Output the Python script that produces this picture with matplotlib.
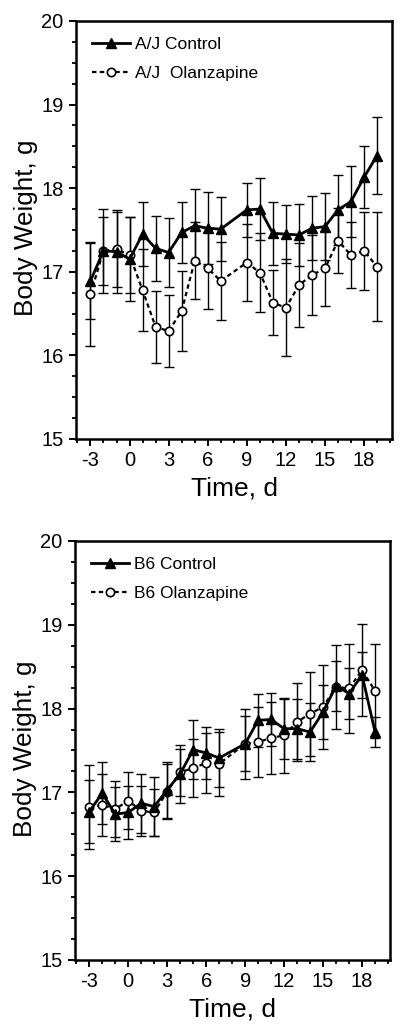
import matplotlib.pyplot as plt
from matplotlib.ticker import MultipleLocator

plt.rcParams['font.family'] = ['Liberation Sans', 'DejaVu Sans']
plt.rcParams['axes.unicode_minus'] = False

days = [-3, -2, -1, 0, 1, 2, 3, 4, 5, 6, 7, 9, 10, 11, 12, 13, 14, 15, 16, 17, 18, 19]

aj_ctrl = [16.89, 17.25, 17.24, 17.15, 17.45, 17.28, 17.23, 17.47, 17.55, 17.52, 17.51,
           17.74, 17.75, 17.46, 17.45, 17.44, 17.52, 17.54, 17.74, 17.84, 18.13, 18.39]
aj_ctrl_err = [0.45, 0.5, 0.5, 0.5, 0.38, 0.39, 0.41, 0.36, 0.44, 0.43, 0.38,
               0.32, 0.37, 0.38, 0.35, 0.37, 0.38, 0.4, 0.42, 0.42, 0.37, 0.46]
aj_olz = [16.73, 17.25, 17.27, 17.20, 16.78, 16.34, 16.29, 16.53, 17.13, 17.04, 16.89,
          17.11, 16.99, 16.63, 16.57, 16.84, 16.96, 17.04, 17.37, 17.20, 17.25, 17.06]
aj_olz_err = [0.62, 0.41, 0.45, 0.45, 0.49, 0.43, 0.43, 0.48, 0.46, 0.48, 0.47,
              0.46, 0.47, 0.39, 0.58, 0.5, 0.48, 0.45, 0.39, 0.39, 0.47, 0.65]

b6_ctrl = [16.77, 16.99, 16.74, 16.76, 16.87, 16.83, 17.03, 17.22, 17.51, 17.47, 17.41,
           17.58, 17.86, 17.87, 17.76, 17.76, 17.72, 17.96, 18.27, 18.18, 18.40, 17.72]
b6_ctrl_err = [0.38, 0.37, 0.32, 0.32, 0.35, 0.35, 0.33, 0.35, 0.35, 0.31, 0.35,
               0.42, 0.32, 0.32, 0.36, 0.36, 0.35, 0.32, 0.3, 0.3, 0.27, 0.18]
b6_olz = [16.83, 16.85, 16.80, 16.90, 16.78, 16.76, 17.01, 17.24, 17.29, 17.35, 17.34,
          17.58, 17.60, 17.65, 17.68, 17.84, 17.94, 18.02, 18.26, 18.24, 18.46, 18.21]
b6_olz_err = [0.5, 0.37, 0.33, 0.34, 0.3, 0.28, 0.33, 0.28, 0.35, 0.36, 0.38,
              0.33, 0.42, 0.43, 0.45, 0.47, 0.5, 0.5, 0.5, 0.53, 0.55, 0.56]

panels = [
    ([0.188, 0.5763, 0.780, 0.4035], 'A/J Control', 'A/J  Olanzapine', aj_ctrl, aj_ctrl_err, aj_olz, aj_olz_err),
    ([0.185, 0.0734, 0.778, 0.4044], 'B6 Control', 'B6 Olanzapine', b6_ctrl, b6_ctrl_err, b6_olz, b6_olz_err),
]

fig = plt.figure(figsize=(4.05, 10.36), dpi=100)

for rect, lab_c, lab_o, ctrl, ctrl_err, olz, olz_err in panels:
    ax = fig.add_axes(rect)
    # error bars first, lines + markers on top
    ax.errorbar(days, olz, yerr=olz_err, fmt='none', ecolor='black', elinewidth=1, capsize=3.5, capthick=1)
    ax.errorbar(days, ctrl, yerr=ctrl_err, fmt='none', ecolor='black', elinewidth=1, capsize=3.5, capthick=1)
    ax.plot(days, olz, color='black', lw=1.6, ls=(0, (2, 1.5)), marker='o', ms=6,
            mfc='white', mec='black', mew=1.2, label=lab_o)
    ax.plot(days, ctrl, color='black', lw=2, ls='-', marker='^', ms=6.5,
            mfc='black', mec='black', label=lab_c)

    ax.set_xlim(-4.1, 20.15)
    ax.set_ylim(15, 20)
    ax.set_xticks([-3, 0, 3, 6, 9, 12, 15, 18])
    ax.xaxis.set_minor_locator(MultipleLocator(1))
    ax.yaxis.set_major_locator(MultipleLocator(1))
    ax.yaxis.set_minor_locator(MultipleLocator(0.25))
    ax.tick_params(which='major', direction='out', length=5, width=1.4, labelsize=14.5, pad=4)
    ax.tick_params(which='minor', direction='out', length=3, width=1.3)
    for s in ax.spines.values():
        s.set_linewidth(1.8)

    ax.set_xlabel('Time, d', fontsize=19, labelpad=4)
    ax.set_ylabel('Body Weight, g', fontsize=18.8)
    ax.yaxis.set_label_coords(-0.12, 0.505)

    h, l = ax.get_legend_handles_labels()
    leg = ax.legend(h[::-1], l[::-1], loc='upper left', frameon=False, fontsize=12.5,
                    handlelength=2.2, handletextpad=0.3, borderaxespad=0.5, labelspacing=0.8)

fig.savefig('out.png', dpi=100)
